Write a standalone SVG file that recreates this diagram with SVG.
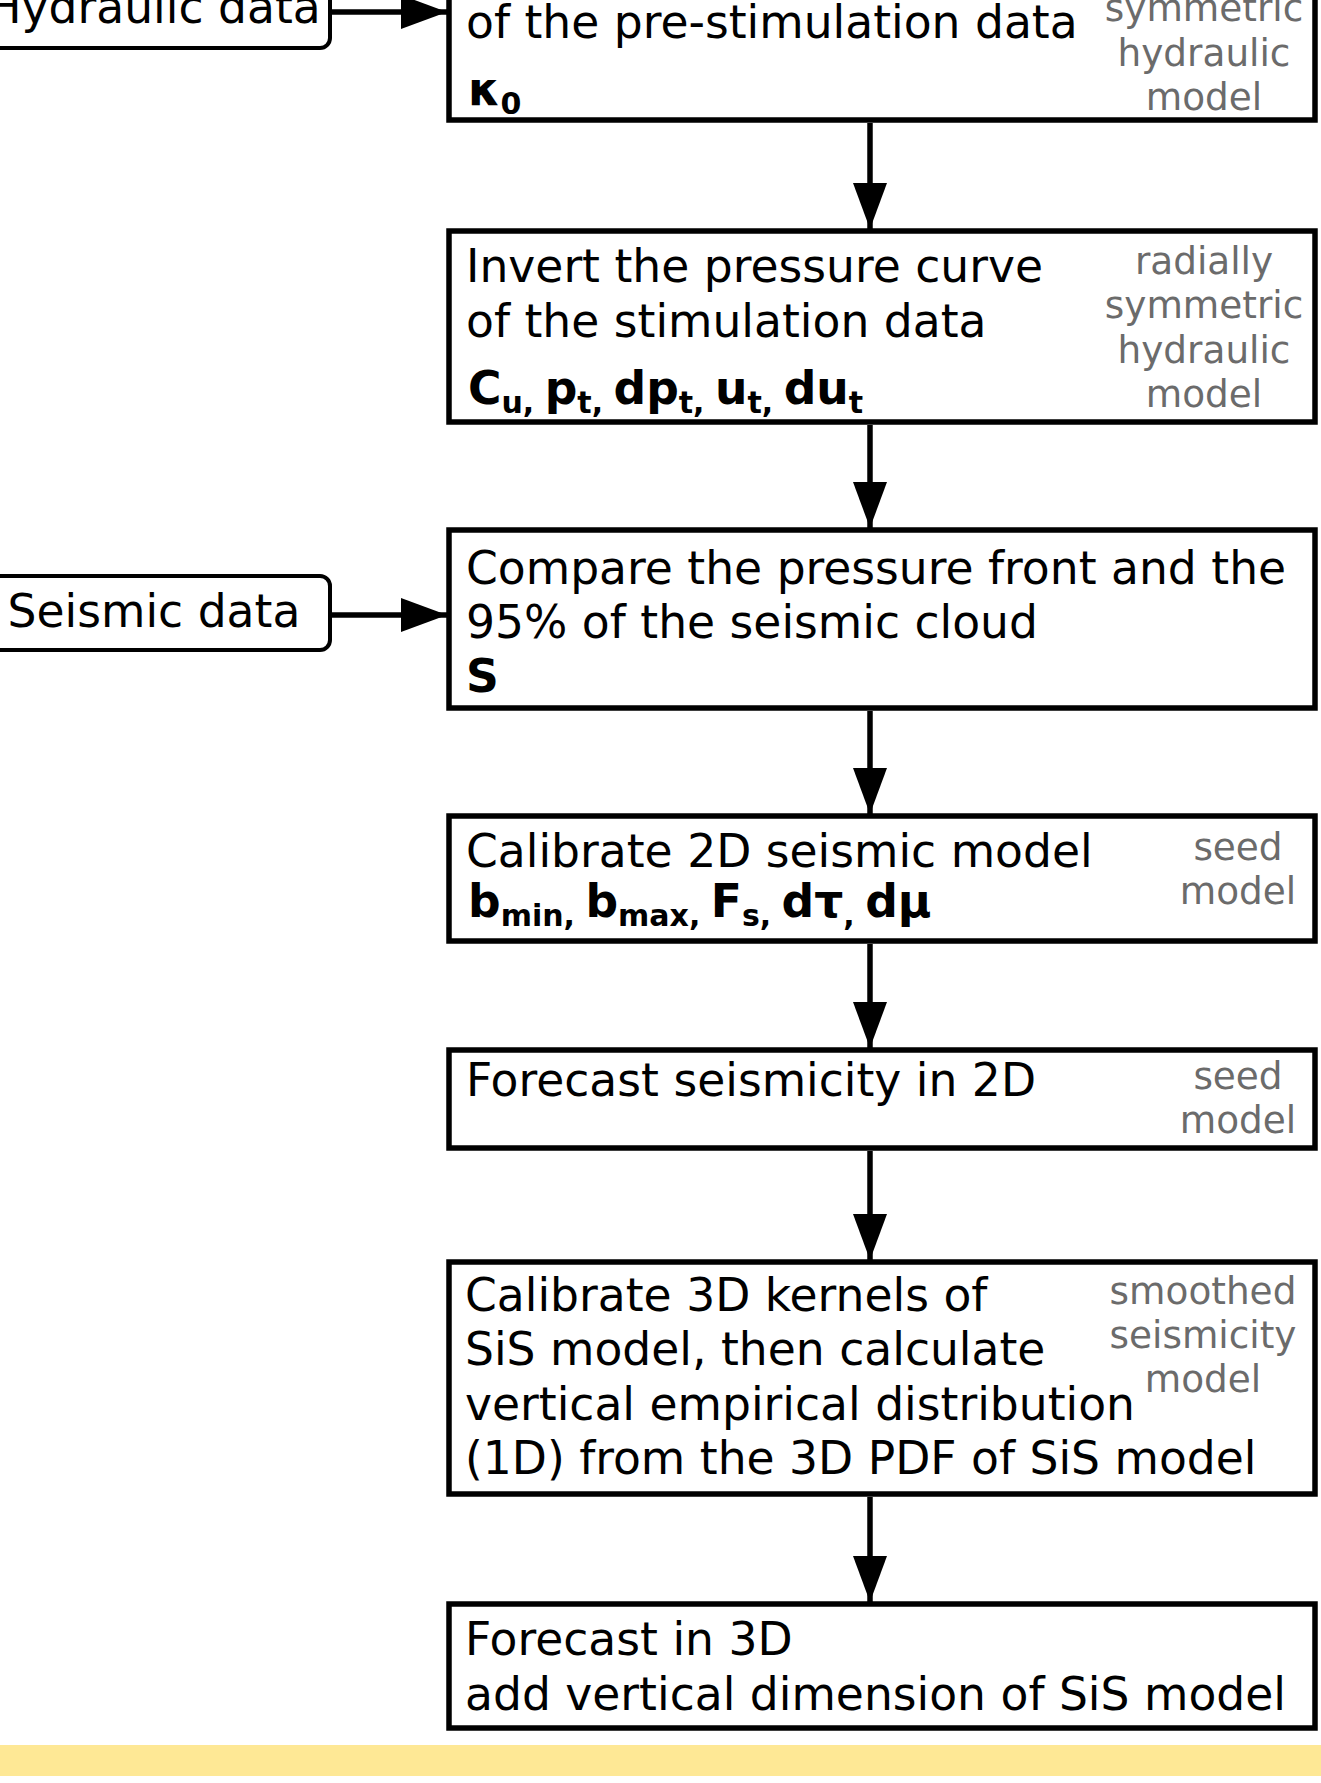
<svg xmlns="http://www.w3.org/2000/svg" width="1321" height="1783" viewBox="0 0 1321 1783">
  <style>
    .step { fill: #ffffff; stroke: #000000; stroke-width: 5.5; }
    .input { fill: #ffffff; stroke: #000000; stroke-width: 4; }
    .txt { font-family: "DejaVu Sans", "Liberation Sans", sans-serif; font-size: 45.6px; fill: #000000; }
    .par { font-family: "DejaVu Sans", "Liberation Sans", sans-serif; font-size: 45.6px; font-weight: bold; fill: #000000; }
    .sub { font-size: 30px; }
    .note { font-family: "DejaVu Sans", "Liberation Sans", sans-serif; font-size: 37.4px; fill: #6b6b6b; text-anchor: middle; }
    .link { stroke: #000000; stroke-width: 5.5; fill: none; }
  </style>
  <defs>
    <marker id="head" viewBox="0 0 46 34" refX="46" refY="17" markerWidth="46" markerHeight="34" markerUnits="userSpaceOnUse" orient="auto">
      <path d="M0,0 L46,17 L0,34 Z" fill="#000000"/>
    </marker>
  </defs>

  <rect width="1321" height="1783" fill="#ffffff"/>

  <!-- inputs -->
  <g id="hydraulic-data">
    <rect class="input" x="-22" y="-28" width="352" height="76" rx="10"/>
    <text class="txt" x="154" y="23" text-anchor="middle">Hydraulic data</text>
  </g>
  <g id="seismic-data">
    <rect class="input" x="-22" y="576" width="352" height="74" rx="10"/>
    <text class="txt" x="154" y="627" text-anchor="middle">Seismic data</text>
  </g>

  <!-- processing steps -->
  <g id="step-prestimulation">
    <rect class="step" x="449" y="-100" width="866" height="220"/>
    <text class="txt" x="466" y="38">of the pre-stimulation data</text>
    <text class="par" x="468" y="105">κ<tspan class="sub" dy="9">0</tspan></text>
    <text class="note" x="1204" y="21">symmetric</text>
    <text class="note" x="1204" y="66">hydraulic</text>
    <text class="note" x="1204" y="110">model</text>
  </g>

  <g id="step-stimulation">
    <rect class="step" x="449" y="231" width="866" height="191"/>
    <text class="txt" x="466" y="282">Invert the pressure curve</text>
    <text class="txt" x="466" y="337">of the stimulation data</text>
    <text class="par" x="468" y="404">C<tspan class="sub" dy="9">u, </tspan><tspan dy="-9">p</tspan><tspan class="sub" dy="9">t, </tspan><tspan dy="-9">dp</tspan><tspan class="sub" dy="9">t, </tspan><tspan dy="-9">u</tspan><tspan class="sub" dy="9">t, </tspan><tspan dy="-9">du</tspan><tspan class="sub" dy="9">t</tspan></text>
    <text class="note" x="1204" y="274">radially</text>
    <text class="note" x="1204" y="318">symmetric</text>
    <text class="note" x="1204" y="363">hydraulic</text>
    <text class="note" x="1204" y="407">model</text>
  </g>

  <g id="step-compare">
    <rect class="step" x="449" y="530" width="866" height="178"/>
    <text class="txt" x="466" y="584">Compare the pressure front and the</text>
    <text class="txt" x="466" y="638">95% of the seismic cloud</text>
    <text class="par" x="466" y="692">S</text>
  </g>

  <g id="step-calibrate-2d">
    <rect class="step" x="449" y="816" width="866" height="125"/>
    <text class="txt" x="466" y="867">Calibrate 2D seismic model</text>
    <text class="par" x="468" y="917">b<tspan class="sub" dy="9">min, </tspan><tspan dy="-9">b</tspan><tspan class="sub" dy="9">max, </tspan><tspan dy="-9">F</tspan><tspan class="sub" dy="9">s, </tspan><tspan dy="-9">dτ</tspan><tspan class="sub" dy="9">, </tspan><tspan dy="-9"> dμ</tspan></text>
    <text class="note" x="1238" y="860">seed</text>
    <text class="note" x="1238" y="904">model</text>
  </g>

  <g id="step-forecast-2d">
    <rect class="step" x="449" y="1050" width="866" height="98"/>
    <text class="txt" x="466" y="1096">Forecast seismicity in 2D</text>
    <text class="note" x="1238" y="1089">seed</text>
    <text class="note" x="1238" y="1133">model</text>
  </g>

  <g id="step-calibrate-3d">
    <rect class="step" x="449" y="1262" width="866" height="232"/>
    <text class="txt" x="465" y="1311">Calibrate 3D kernels of</text>
    <text class="txt" x="465" y="1365">SiS model, then calculate</text>
    <text class="txt" x="465" y="1420">vertical empirical distribution</text>
    <text class="txt" x="465" y="1474">(1D) from the 3D PDF of SiS model</text>
    <text class="note" x="1203" y="1304">smoothed</text>
    <text class="note" x="1203" y="1348">seismicity</text>
    <text class="note" x="1203" y="1392">model</text>
  </g>

  <g id="step-forecast-3d">
    <rect class="step" x="449" y="1604" width="866" height="124"/>
    <text class="txt" x="465" y="1655">Forecast in 3D</text>
    <text class="txt" x="465" y="1710">add vertical dimension of SiS model</text>
  </g>

  <!-- connectors -->
  <g id="connectors">
    <line class="link" x1="332" y1="12" x2="447" y2="12" marker-end="url(#head)"/>
    <line class="link" x1="332" y1="615" x2="447" y2="615" marker-end="url(#head)"/>
    <line class="link" x1="870" y1="123" x2="870" y2="229" marker-end="url(#head)"/>
    <line class="link" x1="870" y1="425" x2="870" y2="528" marker-end="url(#head)"/>
    <line class="link" x1="870" y1="711" x2="870" y2="814" marker-end="url(#head)"/>
    <line class="link" x1="870" y1="944" x2="870" y2="1048" marker-end="url(#head)"/>
    <line class="link" x1="870" y1="1151" x2="870" y2="1260" marker-end="url(#head)"/>
    <line class="link" x1="870" y1="1497" x2="870" y2="1602" marker-end="url(#head)"/>
  </g>

  <!-- footer band -->
  <rect x="0" y="1745" width="1321" height="31" fill="#fee895"/>
</svg>
